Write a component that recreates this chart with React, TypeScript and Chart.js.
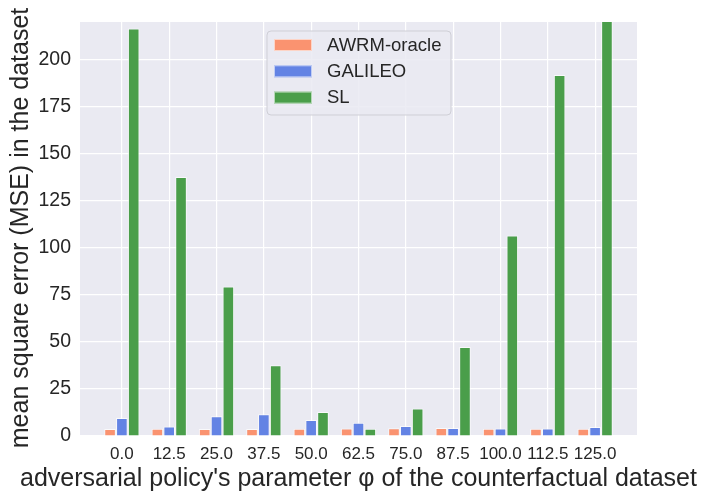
import React, { useEffect, useRef } from 'react';
import { Chart, registerables } from 'chart.js';
Chart.register(...registerables);

const categories = ['0.0', '12.5', '25.0', '37.5', '50.0', '62.5', '75.0', '87.5', '100.0', '112.5', '125.0'];
const awrmOracle = [3.7, 3.8, 3.7, 3.7, 3.9, 4.0, 4.1, 4.2, 3.8, 3.9, 3.8];
const galileo = [9.5, 5.0, 10.5, 11.5, 8.5, 7.0, 5.3, 4.2, 4.0, 4.0, 4.8];
const sl = [216.5, 137.6, 79.4, 37.6, 12.8, 3.8, 14.6, 47.3, 106.5, 191.8, 240];
const yTicks = [0, 25, 50, 75, 100, 125, 150, 175, 200];

const xTitle = "adversarial policy's parameter φ of the counterfactual dataset";
const yTitle = 'mean square error (MSE) in the dataset';

const FONT = "Arial, 'Liberation Sans', Helvetica, sans-serif";
const TEXT = '#262626';

const bgPlugin = {
  id: 'plotBackground',
  beforeDraw(chart: any) {
    const { ctx, chartArea } = chart;
    ctx.save();
    ctx.fillStyle = '#EAEAF2';
    ctx.fillRect(chartArea.left, chartArea.top, chartArea.right - chartArea.left, chartArea.bottom - chartArea.top);
    ctx.restore();
  },
};

// axis titles drawn by hand: the built-in ones get squeezed to the axis length
const axisTitles = {
  id: 'axisTitles',
  afterDraw(chart: any) {
    const { ctx, chartArea } = chart;
    ctx.save();
    ctx.fillStyle = TEXT;
    ctx.font = `25px ${FONT}`;
    ctx.textAlign = 'center';
    ctx.textBaseline = 'alphabetic';
    ctx.fillText(xTitle, 358.5, chartArea.bottom + 49.5);
    ctx.translate(28, 228);
    ctx.rotate(-Math.PI / 2);
    ctx.fillText(yTitle, 0, 0);
    ctx.restore();
  },
};

// legend box drawn inside the plot, matplotlib style
const boxLegend = {
  id: 'boxLegend',
  afterDraw(chart: any) {
    const { ctx, chartArea } = chart;
    const x = chartArea.left + 187;
    const y = chartArea.top + 9;
    const w = 184;
    const h = 84;
    ctx.save();
    ctx.beginPath();
    ctx.roundRect(x, y, w, h, 4);
    ctx.fillStyle = 'rgba(234,234,242,0.85)';
    ctx.fill();
    ctx.strokeStyle = '#cfcfd6';
    ctx.lineWidth = 1;
    ctx.stroke();
    chart.data.datasets.forEach((ds: any, i: number) => {
      const py = y + 8 + i * 26.3;
      ctx.fillStyle = ds.backgroundColor;
      ctx.fillRect(x + 7, py, 38, 12);
      ctx.strokeStyle = 'rgba(255,255,255,0.6)';
      ctx.strokeRect(x + 7.5, py + 0.5, 37, 11);
      ctx.fillStyle = TEXT;
      ctx.font = `18.5px ${FONT}`;
      ctx.textBaseline = 'middle';
      ctx.fillText(ds.label, x + 60, py + 6.5);
    });
    ctx.restore();
  },
};

export default function App(): React.ReactElement {
  const canvasRef = useRef<HTMLCanvasElement | null>(null);
  const chartRef = useRef<Chart | null>(null);

  useEffect(() => {
    if (!canvasRef.current) return;
    if (chartRef.current) chartRef.current.destroy();

    const toPoints = (vals: number[]) => vals.map((v, i) => ({ x: i, y: v }));
    const barStyle = {
      borderColor: 'rgba(255,255,255,0.7)',
      borderWidth: 1,
      barPercentage: 0.98,
      categoryPercentage: 0.75,
    };

    chartRef.current = new Chart(canvasRef.current, {
      type: 'bar',
      data: {
        datasets: [
          { label: 'AWRM-oracle', data: toPoints(awrmOracle), backgroundColor: '#FA9370', ...barStyle },
          { label: 'GALILEO', data: toPoints(galileo), backgroundColor: '#6383E4', ...barStyle },
          { label: 'SL', data: toPoints(sl), backgroundColor: '#4A9E4A', ...barStyle },
        ],
      },
      options: {
        responsive: true,
        maintainAspectRatio: false,
        animation: false,
        layout: { padding: { top: 22, right: 69, left: 0, bottom: 0 } },
        plugins: {
          legend: { display: false },
          tooltip: { enabled: false },
        },
        scales: {
          x: {
            type: 'linear',
            offset: false,
            min: -0.885,
            max: 10.885,
            afterBuildTicks: (scale: any) => {
              scale.ticks = categories.map((_, i) => ({ value: i }));
            },
            afterFit: (scale: any) => {
              scale.height = 63;
            },
            grid: { color: '#ffffff', lineWidth: 1.2, drawTicks: false, offset: false },
            border: { display: false },
            ticks: {
              color: TEXT,
              padding: 8,
              maxRotation: 0,
              autoSkip: false,
              font: { family: FONT, size: 17 },
              callback: (v: any) => categories[Number(v)] ?? '',
            },
          },
          y: {
            min: 0,
            max: 220,
            afterBuildTicks: (scale: any) => {
              scale.ticks = yTicks.map((v) => ({ value: v }));
            },
            afterFit: (scale: any) => {
              scale.width = 80;
            },
            grid: { color: '#ffffff', lineWidth: 1.2, drawTicks: false },
            border: { display: false },
            ticks: {
              color: TEXT,
              padding: 9,
              font: { family: FONT, size: 19.5 },
            },
          },
        },
      },
      plugins: [bgPlugin, axisTitles, boxLegend],
    });

    return () => {
      if (chartRef.current) {
        chartRef.current.destroy();
        chartRef.current = null;
      }
    };
  }, []);

  return (
    <div style={{ position: 'absolute', left: 0, top: 0, width: 706, height: 499, background: '#ffffff' }}>
      <canvas ref={canvasRef} />
    </div>
  );
}
